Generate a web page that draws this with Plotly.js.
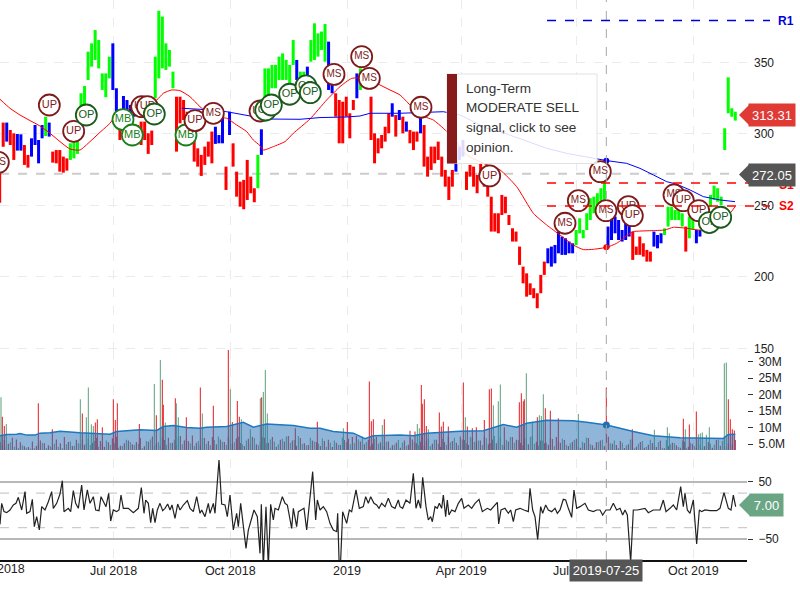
<!DOCTYPE html>
<html><head><meta charset="utf-8">
<script src="https://cdn.plot.ly/plotly-3.0.1.min.js"></script>
<style>html,body{margin:0;padding:0;background:#fff;overflow:hidden}#c{width:800px;height:600px}</style>
</head><body><div id="c"></div>
<script>
// Time base: "ticks" are 0.26267 calendar days counted from the first visible date.
const START_MS = Date.UTC(2018,3,2,13,30);
const TICK_DAYS = 0.26267;
const tickDate = k => new Date(START_MS + k*TICK_DAYS*864e5).toISOString();

const axisDates = ['2018-07-01','2018-10-01','2019-01-01','2019-04-01','2019-07-01','2019-10-01'];
const axisLabels = ['Jul 2018','Oct 2018','2019','Apr 2019','Jul 2019','Oct 2019'];

const priceHigh = [272.4,307.9,307.9,302.7,300.4,299.9,299.7,292.2,285.3,296.9,306.2,295.7,306.2,312,307.9,287.6,288.7,288.7,284.1,282.9,293.4,295.7,295.7,328.4,333.5,357.5,363.3,372.6,365.6,342.3,342.3,354,363.3,331.9,303.9,326.5,323.7,320.2,319,306.2,308.6,308.6,300.4,302.3,354,386.1,382,363.3,358.7,343.5,326,326,323.7,315.5,312,300.4,289.9,285.3,291.1,294.6,301.6,305,299.2,313.7,277.1,315.5,293.4,273.6,266.6,267.8,281.8,270.1,262,285.3,303.2,345.8,345.8,348.2,348.2,354,356.3,351.7,348.2,365.6,351.7,343.5,343.5,347,365.6,377.3,370.3,371.5,376.8,364.5,334.2,328.4,323.7,322.5,326,314.4,323.7,342.3,345.8,null,null,326,300.4,296.9,299.2,305,314.4,321.4,313.2,316.7,312,308.6,302.7,301.6,301.6,313.2,306.2,284.1,291.1,291.1,294.6,284.1,274.8,270.1,274.8,288.7,291.1,295.7,273.6,278.3,277.1,271.3,279.4,267.8,263.1,256.1,244.5,244.5,257.3,256.1,243.3,234,231.7,221.2,207.2,202.5,195.5,192.1,188.6,201.4,210.7,220,221.2,222.3,231.7,228.2,227,224.7,223.5,232.8,241,232.8,244.5,255,256.1,258.5,262,266.6,235.2,244.5,242.2,239.8,232.8,238.7,237.5,231.7,221.2,228.2,223.5,218.9,217.7,231.7,229.3,230.5,234,249.1,249.1,246.8,248,244.5,235.2,242.2,242.2,232.8,232.8,242.2,244.5,257.3,263.8,262,256.1,303.9,339.5,317.9,315.5];
const priceLow = [251.9,291,294.6,292.2,281.8,288.3,288.3,278.3,276.4,284.1,292.2,279.4,296.9,298.5,298.1,279.9,279.4,273.6,272.9,274.3,281.8,282.9,286,319,320.9,337.7,347,351.7,345.8,330.7,325.6,338.8,330.7,315.5,295.7,315.5,314.4,314.4,312,298.1,292.2,295.7,286,292.2,324.9,338.8,345.8,344.7,347,331.9,287.6,307.4,309.7,300.4,299.2,280.6,277.1,270.6,278.3,284.1,279.4,293,293.4,293.4,260.8,299.2,277.1,256.1,249.1,247.3,253.8,258.5,252.2,262,285.3,308.6,326,331.9,331.9,337.7,337.7,337.7,333,348.2,337.7,333,335.4,337.7,350.5,351.7,354,358.7,350.5,330.7,328.4,312,293.4,293.4,312,296.9,316.7,324.9,330.7,null,null,295.7,279.4,286.4,289.9,294.6,300.4,312,298.1,309.7,300.4,301.6,293.4,288.7,294.6,300.4,277.1,270.1,274.8,279.4,281.8,270.1,263.1,253.8,263.1,273.6,281.8,284.1,260.8,270.1,263.1,258.5,267.8,263.1,256.1,231.7,231.7,230.5,243.3,244.5,236.3,224.7,224.7,208.4,195.5,186.2,187.4,185.1,178.1,188.6,201.4,209.5,207.2,209.5,216.5,215.4,215.4,216.5,216.5,222.3,230.5,227,232.8,239.8,244.5,249.1,251.5,253.8,220,225.8,230.5,225.8,224.7,225.8,228.2,211.9,215.4,215.4,214.2,210.7,210.7,221.2,220,223.5,229.3,235.2,239.8,239.8,239.8,235.2,217.7,227,232.8,223.5,228.2,232.8,235.2,249.1,253.8,252.6,250.3,288.7,314.4,312,309.3];
// Regime colour of each price bar: r red, b blue, g green, n no bar
const priceRegime = "rr b rr bb rr bbbb g b rrrrr gggggggggggg bb r bbbb rrrrr gggggg rrrrrrrrrrr bbb r b rrrrrrr g b ggggggggg b gg b ggggg bb rrrrrr b g nn rrrrrr b r b r b rrr b rrrrrrrrr bbb rrrrrrrrrrrrrrrrrrrrrrr bbbbbbbb ggggggggg bbbbbbb rrrrrr bbb gggggg r gg bb gggggggggg".replace(/ /g,'');

const redMaTick = [0,30,60,90,120,150,180,210,240,270,300,330,345,400,470,490,515,540,570,600,640,680,710,740,760,780,790,820,855,880,930,980,1020,1055,1100,1140,1170,1200,1230,1260,1300,1330,1360,1400,1450,1500,1550,1600,1640,1680,1720,1750,1780,1820,1850,1890,1900,1960,1995,2020,2060,2095,2130,2170,2190,2205];
const redMaPrice = [324.2,317.9,313.2,309.3,305.5,300.4,294.6,289.4,288.7,294.6,301.1,307.4,312,319,323.7,328.4,330.7,330.2,326,319,312,310.9,306.2,301.6,295.7,291.8,288.7,291.1,294.6,300.4,310.4,323.7,333,338.8,338.8,334.2,330.7,327.2,320.2,313.2,309.7,303.9,296.9,285.3,279.4,274.8,263.1,244.5,236.3,229.3,222.3,219.1,219.3,220.7,223.5,230.5,231.7,232.4,232.8,234.7,234,232.8,232.8,242.1,244.5,249.1];
const blueMaTick = [545,600,680,720,770,800,900,960,1040,1080,1110,1200,1330,1380,1420,1460,1500,1600,1640,1700,1750,1820,1880,1920,1960,2000,2030,2070,2110,2160,2205];
const blueMaPrice = [317.9,317.2,315.5,313.9,312,310.4,310.2,311.4,311.8,312.5,314.4,314.4,315.5,313.2,308.6,303.9,301.6,293.4,289.9,286.4,284.1,281.3,279.4,275.9,271.3,266.6,264.8,260.8,256.1,253.8,252.6];

const signalTick = [-5,148,221,259,369,397,425,442,463,558,585,640,780,797,814,869,918,931,1002,1085,1108,1263,1469,1695,1735,1801,1818,1885,1897,2022,2050,2096,2128,2162];
const signalPrice = [280.1,320.2,301.8,313.2,310,299.2,319,319,313.9,299.2,309.3,314.4,316,316.7,320.2,327.7,333.5,328.8,341.6,354,338.8,318.6,270.6,237.5,253.3,273.6,246.3,249.1,242.8,257.3,253.3,246.3,238,241.7];
const signalLabel = ['MS','UP','UP','OP','MB','MB','UP','UP','OP','MB','UP','MS','UP','OP','OP','OP','OP','OP','MS','MS','MS','MS','UP','MS','MS','MS','MS','UP','UP','MS','UP','UP','OP','OP'];

const levelNames = ['R1','S1','S2'];
const levelPrices = [379.2,265.6,249.6];

// Volume in millions
const volRedBase = [5.6,6.2,5.1,6.9,6.4,5.5,4.3,4.1,5.8,4.4,6.1,5.2,4.6,3.9,6.4,5.2,7.1,5.6,4.4,6.3,5.1,4.8,6.6,5.3,6.9,5.9,4.2,5.5,6.7,7.2,4.5,5.2,6.1,4.9,5.6,6.8,4.3,5.7,7.3,5.1,4.7,6.2,6.9,5.4,4.8,7.4,6.1,5.9,7.6,5.4,4.6,6.8,5.9,7.1,4.9,6.4,5.6,7.3,5.1,6.7,5.3,4.4,6.6,7.2,4.9,5.7,6.9,5.4,7.1,4.2,6.3,5.8,7.4,6.1,4.5,6.8,5.2,4.7,6.1,5.6,4.4,5.9,6.3,4.1,5.4,4.7,6.2,6.6,7.1,7.4,5.8,4.9,6.3,5.1,7.2,5.5,4.3,5.8,4.6,5.4,3.9,6.1,4.8,6.4,5.2,5.7,4.5,6.6,5.1,6.3,4.2,5.6,7.1,5.9,5.4,7.3,6.2,4.7,6.8,5.5,6.1,7.2,4.9,6.4,5.2,6.9,4.6,5.8,7.1,6.3,5.4,6.7,4.9,7.4,5.7,6.1,5.2,4.8,6.5,7.1,5.4,6.2,4.4,5.7,6.6,3.9,5.3,6.8,4.6,5.5,6.1,4.3,7.2,5.1,4.7,5.9,3.8,4.9,6.4,4.2,5.6,3.9,4.8,5.3,4.1,6.1,3.7,4.4,5.4,4.6,3.9,5.7,4.2,5.1,3.8,4.7,4.3,5.6,3.9,6.2,4.5,6.6,5.2,4.9];
const volGreenBase = [4.7,3.9,5.5,4.2,3.8,4.6,3.9,3.6,3.7,4.9,5.3,3.8,4.3,5.1,4.1,3.7,4.9,5.8,4.5,5.2,6.4,5.1,4.7,5.9,4.2,5.4,6.1,4.8,5.2,3.9,4.4,6.3,5.6,4.7,5.1,3.8,5.9,6.4,4.3,5.6,7,4.8,5.3,6.3,7.1,4.9,6.6,5.2,4.4,5.9,6.7,5.1,4.6,6.2,7.3,5.7,4.8,6.3,5.5,7.2,4.9,6.1,5.3,6.8,4.6,7.1,5.2,6.4,5.8,4.9,6.6,7.3,5.4,6.2,7.4,5.1,4.6,6.9,5.8,5.1,6.7,4.2,5.4,6.1,4.8,6.9,5.5,4.9,5.3,6.4,7.2,5.6,4.3,6.6,5.1,4.6,5.7,3.9,4.8,6.2,5.4,4.5,6.8,5.6,4.7,7.1,5.9,4.4,6.3,5.1,6.6,4.8,5.5,6.9,4.6,6.4,5.2,7.2,5.7,6.1,4.7,6.8,5.3,7.4,5.9,4.8,6.3,7.1,5.4,6.2,4.6,6.7,7.2,5.1,4.5,6.1,5.4,6.8,4.3,5.9,6.6,4.8,5.2,6.2,4.1,5.7,7,4.9,3.9,5.6,6.3,4.7,5.2,6.1,3.8,5.4,4.6,6.4,3.7,5.1,5.9,4.2,6.3,4.6,5.6,3.9,6.2,4.9,5.3,4.1,6.1,3.8,5.4,4.4,6.2,3.7,4.5,5.1,4.8,6.4,5.9,4.2];
const volSpikeTick = [3,7,13,19,115,157,241,247,259,265,274,280,286,292,307,340,346,352,418,463,469,481,487,490,496,526,529,535,559,601,607,640,685,691,697,712,718,724,751,781,785,790,796,802,886,952,1030,1042,1108,1114,1120,1147,1153,1230,1245,1252,1258,1264,1267,1273,1279,1285,1318,1324,1330,1345,1390,1396,1402,1417,1429,1453,1468,1474,1480,1495,1501,1513,1558,1564,1570,1573,1579,1597,1612,1618,1624,1630,1636,1651,1675,1735,1819,1897,1963,2002,2008,2050,2056,2068,2089,2095,2101,2107,2119,2128,2173,2179,2185,2191,2197,2203,2206];
const volSpikeValue = [19.2,13.3,10.5,11.1,17.4,9.5,18.6,14.3,13.1,22.2,11,10.5,11.5,12.5,10.1,18.6,12.3,17.4,11.1,23.2,13.7,30.5,24.5,16.9,11.5,18.9,17.4,13.1,13.1,22.2,14.3,16.6,33.6,21.6,11.7,18.1,13.3,12.5,9.5,18.9,19.2,20.8,27.5,14.3,9.8,11.8,9.8,11.7,24,11.9,12.5,10.8,12.5,9,8.8,11.1,9.8,22.9,17.2,18.6,10.5,9.5,14.6,10.3,11.8,10.3,23.7,13.1,10.3,9.8,10.1,12.3,21.6,21.9,16.8,18,23.1,10.1,17.7,20.4,18,18.6,26.5,11.8,13.1,13.7,13.5,20.1,15.9,15.1,12.8,14.1,22.2,9.5,9.3,10.1,8.3,12.7,9.5,10.9,14.9,8,8.3,8.5,7.8,10.1,29.5,29.8,18.6,12.5,9.5,9.1,6.2];
const volSpikeSide = ['g','r','r','g','r','r','g','r','g','g','g','g','r','r','r','r','r','r','r','g','r','g','r','r','g','r','g','g','r','r','g','r','r','g','r','r','r','g','g','g','r','g','g','g','r','r','g','r','r','r','r','g','r','r','r','g','g','r','r','r','r','g','r','r','r','r','r','g','r','r','r','r','r','r','g','g','g','r','r','r','r','r','g','g','r','g','g','g','r','r','r','g','r','r','g','g','g','r','g','r','r','g','g','g','g','g','g','g','r','r','r','r','r'];
const volAvgTick = [0,20,50,60,80,105,120,150,180,240,330,350,420,470,490,520,560,600,620,680,730,760,800,880,930,960,1000,1060,1095,1120,1200,1240,1280,1320,1380,1450,1510,1550,1580,1640,1720,1760,1820,1900,1960,2040,2170,2185,2206];
const volAvgValue = [7.5,7.9,8,8.2,7.7,7.7,8.3,8.4,8.9,8.4,8,8.8,9.3,9.1,10.3,10.6,10,9.8,10.1,10.3,11.6,10.1,11.1,10.6,9.8,9.8,8.8,8.3,6.6,7.5,7.7,7.5,8.3,8.5,8.9,9,10.9,10.1,11.3,12.2,12.1,11.6,10.8,8.8,7.5,6.9,6.7,7.9,8];
const volTickVals = [5,10,15,20,25,30];
const volTickText = ['5.0M','10M','15M','20M','25M','30M'];

const cciTick = [0,5,12,20,30,40,48,55,65,75,80,90,97,103,110,118,125,135,145,155,160,170,180,187,192,205,212,220,227,235,245,252,262,270,280,287,297,303,318,326,332,340,350,357,363,370,385,400,415,424,432,437,445,452,458,465,472,480,488,495,503,510,516,525,533,540,550,562,570,580,590,600,605,615,625,630,640,645,657,665,675,682,690,700,710,715,722,728,738,745,755,762,772,780,784,790,798,805,812,820,825,835,847,855,862,875,880,890,895,905,912,920,928,938,947,952,960,970,980,990,1000,1010,1013,1018,1022,1028,1040,1048,1055,1068,1078,1090,1097,1105,1112,1122,1130,1137,1145,1155,1165,1175,1185,1195,1200,1208,1218,1230,1240,1248,1255,1262,1268,1278,1285,1292,1297,1305,1312,1318,1325,1330,1337,1342,1347,1355,1365,1375,1385,1392,1405,1415,1425,1437,1447,1462,1472,1482,1492,1496,1503,1515,1525,1532,1540,1547,1560,1572,1585,1590,1598,1605,1613,1622,1628,1637,1645,1655,1665,1672,1680,1690,1697,1705,1715,1722,1730,1740,1755,1765,1780,1790,1800,1808,1818,1830,1840,1850,1860,1868,1875,1882,1892,1900,1912,1935,1945,1960,1980,1990,1998,2010,2020,2030,2042,2050,2055,2062,2070,2080,2090,2098,2105,2115,2130,2150,2160,2172,2185,2193,2200,2207];
const cciValue = [-24.4,12.2,-2.3,-4.1,.6,9.3,12.2,22.7,.6,32.6,-5.2,-2.3,19.2,-28.5,-11,-34.3,6.4,.6,15.1,32.6,3.5,12.2,28.5,51.7,-2.3,3.5,-2.3,34.3,12.2,3.5,44.2,.6,35.5,12.2,23.8,.6,-.6,23.8,6.4,29.7,-18.6,.6,-2.3,.6,26.7,3.5,3.5,-4.1,3.5,39.5,-5.2,18,12.2,-21.5,3.5,-21.5,.6,12.2,-.6,3.5,11,.6,9.3,-14,11,.6,9.3,16.9,3.5,-2.3,23.8,-5.2,.6,-11,12.2,-5.2,12.2,-5.2,87.8,11,9.3,-11,26.7,-34.3,-5.2,-28.5,12.2,-16.9,-66.3,-34.3,-14,.6,-11,-75,10.5,-98.3,6.4,-98.3,10.5,-16.9,3.5,.6,23.8,12.2,9.3,-31.4,3.5,-28.5,-2.3,.6,3.5,-34.3,6.4,67.4,-16.9,18,.6,6.4,-2.3,-22.7,-34.3,-37.2,-5.2,-104,-86.6,-2.3,-22.7,.6,-2.3,35.5,3.5,6.4,23.8,12.2,23.8,12.2,9.3,3.5,12.2,6.4,20.9,6.4,3.5,18,6.4,3.5,18,12.2,64.5,3.5,18,3.5,57.6,6.4,-16.9,-11,-19.8,6.4,3.5,12.2,3.5,26.7,-11,18,-8.1,.6,-2.3,12.2,20.9,3.5,9.3,3.5,12.2,19.2,-2.3,3.5,.6,6.4,14,-23.8,.6,3.5,-5.2,.6,-19.8,.6,3.5,.6,-2.3,38.4,.6,-11,-50.6,6.4,-5.2,9.3,.6,-2.3,3.5,-5.2,.6,19.2,18,3.5,-12.2,35.5,3.5,6.4,12.2,.6,-2.3,.6,.6,-8.1,.6,.6,12.2,.6,3.5,-8.1,.6,-8.1,-90,.6,.6,3.5,-4.1,.6,.6,18,-2.3,3.5,9.3,.6,41.3,6.4,29.7,.6,-5.2,18,-58.7,.6,-2.3,.6,-.6,-.6,3.5,30.8,3.5,.6,26.7,6.4];
const cciTickVals = [50,-50];
const cciBands = [30,-30];

const FONT = '"Liberation Sans", Arial, sans-serif';
const W = 747, H = 560;
const px = x => x/W, py = y => 1 - y/H;

// ---- price bars
const barColors = {r:'#ff0000', b:'#0000ff', g:'#00ff00'};
const traces = [];
['r','b','g'].forEach(c => {
  const xs=[], ys=[];
  priceHigh.forEach((h,i) => {
    if (priceRegime[i]!==c || h===null) return;
    const d = tickDate(-1+10.61*i);
    xs.push(d,d,null); ys.push(priceLow[i],h,null);
  });
  traces.push({type:'scatter',mode:'lines',x:xs,y:ys,connectgaps:false,line:{color:barColors[c],width:3},hoverinfo:'skip',showlegend:false});
});
traces.push({type:'scatter',mode:'lines',x:redMaTick.map(tickDate),y:redMaPrice,line:{color:'#ff0000',width:1,shape:'spline',smoothing:.5},hoverinfo:'skip',showlegend:false});
traces.push({type:'scatter',mode:'lines',x:blueMaTick.map(tickDate),y:blueMaPrice,line:{color:'#0000ff',width:1},hoverinfo:'skip',showlegend:false});
traces.push({type:'scatter',mode:'markers',x:[tickDate(1819)],y:[redMaPrice[53]],marker:{color:'#ff0000',size:6},hoverinfo:'skip',showlegend:false});
traces.push({type:'scatter',mode:'markers',x:[tickDate(1819)],y:[blueMaPrice[21]],marker:{color:'#0000ff',size:6},hoverinfo:'skip',showlegend:false});

// ---- volume
const wBar = 1.05/1.269*864e5;
const volRedTicks = volRedBase.map((_,i)=>1+12*i), volGreenTicks = volGreenBase.map((_,i)=>7+12*i);
const volX = [...volRedTicks, ...volGreenTicks, ...volSpikeTick].map(tickDate);
const volY = [...volRedBase, ...volGreenBase, ...volSpikeValue];
const volC = [...volRedBase.map(()=>'r'), ...volGreenBase.map(()=>'g'), ...volSpikeSide].map(c=>c==='r'?'#e8262a':'#63a581');
traces.push({type:'bar',xaxis:'x',yaxis:'y2',x:volX,y:volY,width:wBar,marker:{color:volC,line:{width:0}},hoverinfo:'skip',showlegend:false});
traces.push({type:'scatter',mode:'lines',xaxis:'x',yaxis:'y2',x:volAvgTick.map(tickDate),y:volAvgValue,fill:'tozeroy',fillcolor:'rgba(31,110,180,0.5)',line:{color:'#1f77bf',width:1.5},hoverinfo:'skip',showlegend:false});
traces.push({type:'scatter',mode:'markers',xaxis:'x',yaxis:'y2',x:[tickDate(1819)],y:[10.8],marker:{color:'#1f6fb4',size:7},hoverinfo:'skip',showlegend:false});

// ---- CCI
traces.push({type:'scatter',mode:'lines',xaxis:'x',yaxis:'y3',x:cciTick.map(tickDate),y:cciValue,line:{color:'#222222',width:1.2},hoverinfo:'skip',showlegend:false});

// ---- signal badges (one trace each so later badges cover earlier ones)
const sigColor = {MS:'#7d1a1a',UP:'#7d1a1a',OP:'#1a5a1a',MB:'#1a7f1a'};
signalLabel.forEach((lab,i)=>{
  traces.push({type:'scatter',mode:'markers+text',x:[tickDate(signalTick[i])],y:[signalPrice[i]],
    text:[lab],textposition:'middle center',textfont:{family:FONT,size:lab==='MS'?10:11,color:sigColor[lab]},
    marker:{size:21,color:'#ffffff',line:{color:sigColor[lab],width:1.8}},hoverinfo:'skip',showlegend:false});
});

// ---- decorations
const cross = tickDate(1819);
const shapes = [
  {type:'rect',xref:'paper',yref:'paper',x0:0,x1:1,y0:py(459),y1:py(450),fillcolor:'#ffffff',line:{width:0},layer:'between'},
  {type:'line',xref:'paper',yref:'y',x0:0,x1:px(738),y0:272.05,y1:272.05,line:{color:'#cccccc',width:2,dash:'dash'},layer:'below'},
  {type:'line',xref:'x',yref:'paper',x0:cross,x1:cross,y0:0,y1:1,line:{color:'#a8a8a8',width:1,dash:'dash'}},
];
cciBands.forEach(v=>shapes.push({type:'line',xref:'paper',yref:'y3',x0:0,x1:1,y0:v,y1:v,line:{color:'#cccccc',width:1.2,dash:'dash'},layer:'below'}));
const levelColor = ['#0000dd','#ff0000','#ff0000'];
levelPrices.forEach((v,i)=>shapes.push({type:'line',xref:'paper',yref:'y',x0:px(547),x1:px(770),y0:v,y1:v,line:{color:levelColor[i],width:1.5,dash:'dash'}}));
// opinion panel
shapes.push({type:'rect',xref:'paper',yref:'paper',x0:px(447),x1:px(597),y0:py(163.5),y1:py(74),fillcolor:'rgba(255,255,255,0.86)',line:{color:'#e2e2e2',width:1}});
shapes.push({type:'rect',xref:'paper',yref:'paper',x0:px(447),x1:px(457),y0:py(163.5),y1:py(74),fillcolor:'#871a1a',line:{width:0}});
// last-value tags: pointer triangles
const tag = (y,col)=>({type:'path',xref:'paper',yref:'paper',path:`M ${px(739)} ${py(y)} L ${px(750)} ${py(y-11)} L ${px(750)} ${py(y+11)} Z`,fillcolor:col,line:{width:0}});
shapes.push(tag(115,'#e03a35'),tag(174.5,'#555555'),tag(505,'#6aa584'));

const ann = (x,y,text,opt={})=>Object.assign({xref:'paper',yref:'paper',x:px(x),y:py(y),text,showarrow:false,xanchor:'center',yanchor:'middle',font:{family:FONT,size:13,color:'#222'}},opt);
const annotations = [
  ann(-1,569,'Apr 2018',{font:{family:FONT,size:12.5,color:'#222'}}),
  ann(786,21,'R1',{font:{family:FONT,size:12,color:'#0000dd',weight:'bold'}}),
  ann(786,185,'S1',{font:{family:FONT,size:12,color:'#ff0000',weight:'bold'}}),
  ann(786,206,'S2',{font:{family:FONT,size:12,color:'#ff0000',weight:'bold'}}),
  ann(772,115,'313.31',{width:46,height:22,bgcolor:'#e03a35',borderpad:0,font:{family:FONT,size:13,color:'#fff'}}),
  ann(772,174.5,'272.05',{width:46,height:22,bgcolor:'#555555',borderpad:0,font:{family:FONT,size:13,color:'#fff'}}),
  ann(766,505,'7.00',{width:33,height:22,bgcolor:'#6aa584',borderpad:0,font:{family:FONT,size:13,color:'#fff'}}),
  ann(606,570,'2019-07-25',{width:72,height:21,bgcolor:'#555555',borderpad:0,font:{family:FONT,size:13,color:'#fff'}}),
  ann(464,88,'Long-Term',{xanchor:'left',font:{family:FONT,size:13.6,color:'#333'}}),
  ann(464,108,'MODERATE SELL',{xanchor:'left',font:{family:FONT,size:13.6,color:'#333'}}),
  ann(464,128,'signal, click to see',{xanchor:'left',font:{family:FONT,size:13.6,color:'#333'}}),
  ann(464,148,'opinion.',{xanchor:'left',font:{family:FONT,size:13.6,color:'#333'}}),
];

const layout = {
  width:800,height:600,margin:{l:0,r:53,t:0,b:40},paper_bgcolor:'#fff',plot_bgcolor:'#fff',
  showlegend:false,barmode:'overlay',hovermode:false,font:{family:FONT,size:12,color:'#222'},
  xaxis:{type:'date',anchor:'y3',range:[tickDate(0),tickDate(2241)],tickmode:'array',tickvals:axisDates,ticktext:axisLabels,
    ticks:'',showline:true,linecolor:'#111',linewidth:1.5,showgrid:true,gridcolor:'#ebebeb',griddash:'dash',gridwidth:1,zeroline:false,ticklabelstandoff:-2,tickfont:{family:FONT,size:12.5,color:'#222'}},
  yaxis:{domain:[py(350),1],range:[148.9,393.6],side:'right',anchor:'x',tickvals:[150,200,250,300,350],ticks:'',ticklabelstandoff:6,
    showgrid:true,gridcolor:'#ebebeb',griddash:'dash',zeroline:false,showline:false},
  yaxis2:{domain:[py(450),py(350)],range:[3.18,33.56],side:'right',anchor:'x',tickvals:volTickVals,ticktext:volTickText,ticks:'outside',ticklen:5,tickcolor:'#333',ticklabelstandoff:3,showgrid:false,zeroline:false},
  yaxis3:{domain:[0,py(459)],range:[-86.6,89.5],side:'right',anchor:'x',tickvals:cciTickVals,ticks:'outside',ticklen:5,tickcolor:'#333',ticklabelstandoff:3,showgrid:true,gridcolor:'#b8b8b8',gridwidth:2,griddash:'solid',zeroline:false},
  shapes,annotations
};
Plotly.newPlot('c',traces,layout,{staticPlot:true,displayModeBar:false});
</script></body></html>
